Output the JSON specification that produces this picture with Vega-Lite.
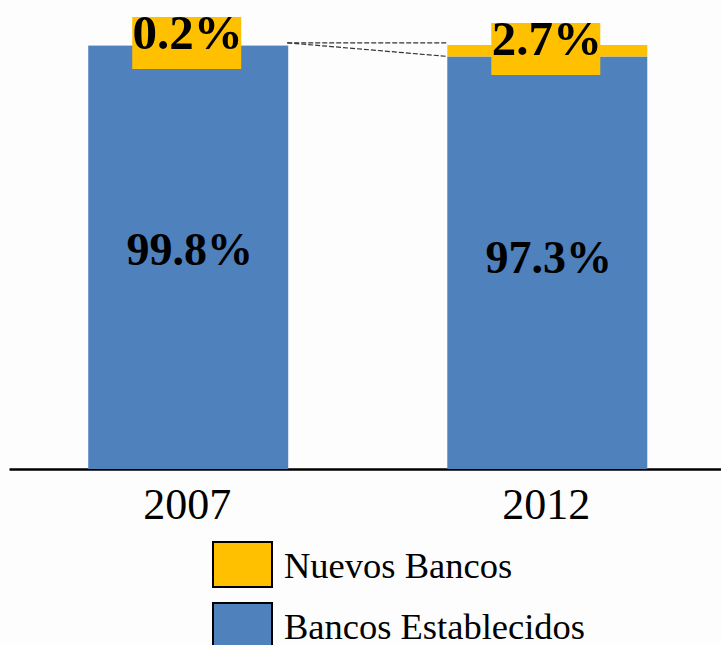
{
 "$schema":"https://vega.github.io/schema/vega-lite/v6.json",
 "width":712,"height":469,
 "autosize":"none",
 "padding":{"left":9,"top":0,"right":0,"bottom":176},
 "background":"#fdfdfd",
 "config":{"view":{"stroke":null}},
 "layer":[
  {"data":{"values":[
    {"year":"2007","series":"Bancos Establecidos","value":99.8},
    {"year":"2007","series":"Nuevos Bancos","value":0.2},
    {"year":"2012","series":"Bancos Establecidos","value":97.3},
    {"year":"2012","series":"Nuevos Bancos","value":2.7}]},
   "mark":{"type":"bar","strokeWidth":0},
   "encoding":{
    "x":{"field":"year","type":"nominal","title":null,
      "scale":{"paddingInner":0.443,"paddingOuter":0.213,"align":0.518},
      "axis":{"domainColor":"#000000","domainWidth":2.5,"ticks":false,"labelAngle":0,"labelFont":"Liberation Serif","labelFontSize":44,"labelColor":"#000000","labelPadding":14,"labelOffset":-1,"grid":false}},
    "y":{"field":"value","type":"quantitative","stack":"zero","title":null,
      "scale":{"domain":[0,110.6],"nice":false},"axis":null},
    "order":{"field":"series","sort":"ascending"},
    "color":{"field":"series","type":"nominal",
      "scale":{"domain":["Nuevos Bancos","Bancos Establecidos"],"range":["#ffc000","#4f81bd"]},
      "legend":{"title":null,"orient":"none","legendX":203,"legendY":534,
        "symbolType":"M-1,-0.763H1V0.763H-1Z","symbolSize":3481,"symbolStrokeColor":"#000000","symbolStrokeWidth":2,"symbolOpacity":1,
        "labelFont":"Liberation Serif","labelFontSize":36.5,"labelColor":"#000000","labelOffset":11,"rowPadding":3,"labelLimit":400,
        "encode":{"labels":{"update":{"dy":{"value":2}}}}}}
   }},
  {"data":{"values":[
    {"year":"2007","lo":94.3,"hi":106.6},
    {"year":"2012","lo":92.9,"hi":105.2}]},
   "mark":{"type":"bar","size":109,"color":"#ffc000","xOffset":-1.5},
   "encoding":{
    "x":{"field":"year","type":"nominal"},
    "y":{"field":"lo","type":"quantitative"},
    "y2":{"field":"hi"}
   }},
  {"data":{"values":[
    {"year":"2007","y1":100.5,"y2":100.5},
    {"year":"2007","y1":100.5,"y2":97.3}]},
   "mark":{"type":"rule","color":"#333333","strokeWidth":1.2,"strokeDash":[5,2],"xOffset":99,"x2Offset":-100},
   "encoding":{
    "x":{"field":"year","type":"nominal"},
    "x2":{"datum":"2012"},
    "y":{"field":"y1","type":"quantitative"},
    "y2":{"field":"y2"}
   }},
  {"data":{"values":[
    {"year":"2007","label":"99.8%","pos":51.3},
    {"year":"2012","label":"97.3%","pos":49.6}]},
   "mark":{"type":"text","font":"Liberation Serif","fontWeight":"bold","fontSize":46,"color":"#000000","baseline":"middle","align":"center","xOffset":1.5},
   "encoding":{
    "x":{"field":"year","type":"nominal"},
    "y":{"field":"pos","type":"quantitative"},
    "text":{"field":"label"}
   }},
  {"data":{"values":[
    {"year":"2007","label":"0.2%","pos":102.6},
    {"year":"2012","label":"2.7%","pos":101.2}]},
   "mark":{"type":"text","font":"Liberation Serif","fontWeight":"bold","fontSize":49,"color":"#000000","baseline":"middle","align":"center","xOffset":-0.5},
   "encoding":{
    "x":{"field":"year","type":"nominal"},
    "y":{"field":"pos","type":"quantitative"},
    "text":{"field":"label"}
   }}
 ]
}
